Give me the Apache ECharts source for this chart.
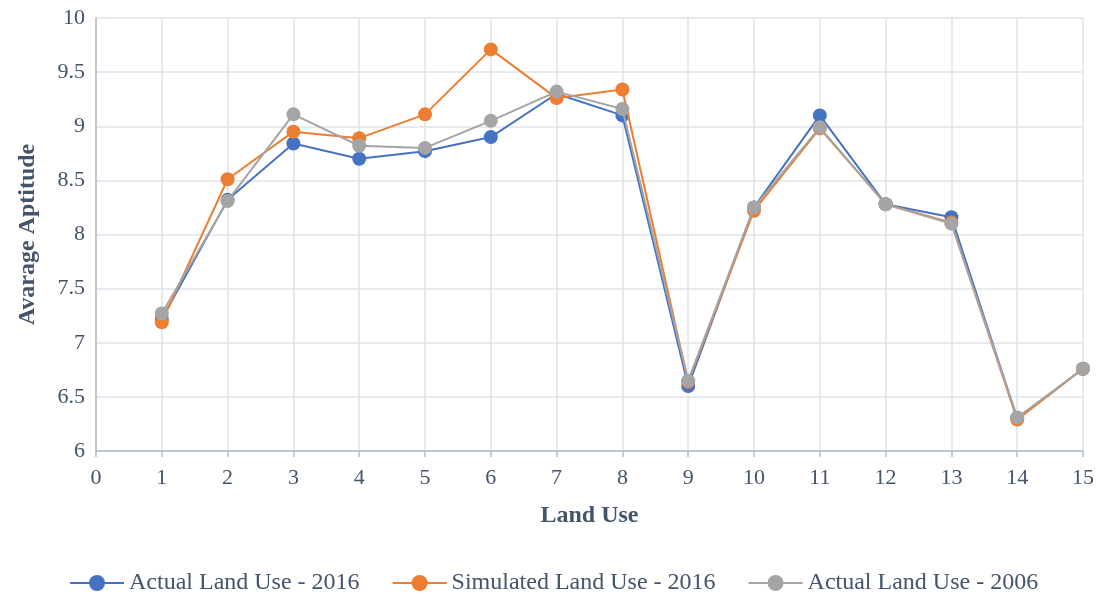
<!DOCTYPE html>
<html>
<head>
<meta charset="utf-8">
<script src="https://cdn.jsdelivr.net/npm/echarts@6/dist/echarts.min.js"></script>
<style>
  html, body { margin: 0; padding: 0; background: #fff; }
  #chart { width: 1097px; height: 595px; }
</style>
</head>
<body>
<div id="chart"></div>
<script>
// land use classes on the x axis
const landUse = [1, 2, 3, 4, 5, 6, 7, 8, 9, 10, 11, 12, 13, 14, 15]
const actual2016 = [7.22, 8.32, 8.84, 8.70, 8.77, 8.90, 9.30, 9.10, 6.60, 8.25, 9.10, 8.28, 8.16, 6.30, 6.76]
const simulated2016 = [7.19, 8.51, 8.95, 8.89, 9.11, 9.71, 9.26, 9.34, 6.64, 8.22, 8.98, 8.28, 8.11, 6.29, 6.76]
const actual2006 = [7.27, 8.31, 9.11, 8.82, 8.80, 9.05, 9.32, 9.16, 6.65, 8.25, 8.99, 8.28, 8.10, 6.31, 6.76]

const seriesNames = ['Actual Land Use - 2016', 'Simulated Land Use - 2016', 'Actual Land Use - 2006']
const colors = ['#4472c4', '#ed7d31', '#a5a5a5']

const textColor = '#44546a'
const fontFamily = '"Liberation Serif", "Times New Roman", serif'

const toPairs = (vals) => vals.map((v, i) => [landUse[i], v])

const chart = echarts.init(document.getElementById('chart'))

chart.setOption({
  animation: false,
  textStyle: { fontFamily: fontFamily },
  color: colors,
  grid: {
    left: 96,
    right: 11,
    top: 18,
    bottom: 144
  },
  legend: {
    top: 566,
    left: 64,
    itemGap: 32,
    itemWidth: 54,
    itemHeight: 20,
    textStyle: { color: textColor, fontSize: 24, fontFamily: fontFamily },
    data: seriesNames
  },
  xAxis: {
    type: 'value',
    min: 0,
    max: 15,
    interval: 1,
    name: 'Land Use',
    nameLocation: 'middle',
    nameGap: 53,
    nameTextStyle: { color: textColor, fontSize: 24, fontWeight: 'bold', fontFamily: fontFamily },
    axisLine: { show: true, lineStyle: { color: '#b4bccb', width: 1.5 } },
    axisTick: { show: true, length: 6, lineStyle: { color: '#b4bccb', width: 1.5 } },
    axisLabel: { color: textColor, fontSize: 22, margin: 16 },
    splitLine: { show: true, lineStyle: { color: '#dfe3ea', width: 1.5 } }
  },
  yAxis: {
    type: 'value',
    min: 6,
    max: 10,
    interval: 0.5,
    name: 'Avarage Aptitude',
    nameLocation: 'middle',
    nameGap: 56,
    nameTextStyle: { color: textColor, fontSize: 24, fontWeight: 'bold', fontFamily: fontFamily },
    axisLine: { show: true, lineStyle: { color: '#b4bccb', width: 1.5 } },
    axisTick: { show: false },
    axisLabel: { color: textColor, fontSize: 22, margin: 11 },
    splitLine: { show: true, lineStyle: { color: '#dfe3ea', width: 1.5 } }
  },
  series: [
    {
      name: seriesNames[0],
      type: 'line',
      data: toPairs(actual2016),
      symbol: 'circle',
      symbolSize: 14,
      lineStyle: { width: 2 },
      z: 2
    },
    {
      name: seriesNames[1],
      type: 'line',
      data: toPairs(simulated2016),
      symbol: 'circle',
      symbolSize: 14,
      lineStyle: { width: 2 },
      z: 3
    },
    {
      name: seriesNames[2],
      type: 'line',
      data: toPairs(actual2006),
      symbol: 'circle',
      symbolSize: 14,
      lineStyle: { width: 2 },
      z: 4
    }
  ]
})
</script>
</body>
</html>
